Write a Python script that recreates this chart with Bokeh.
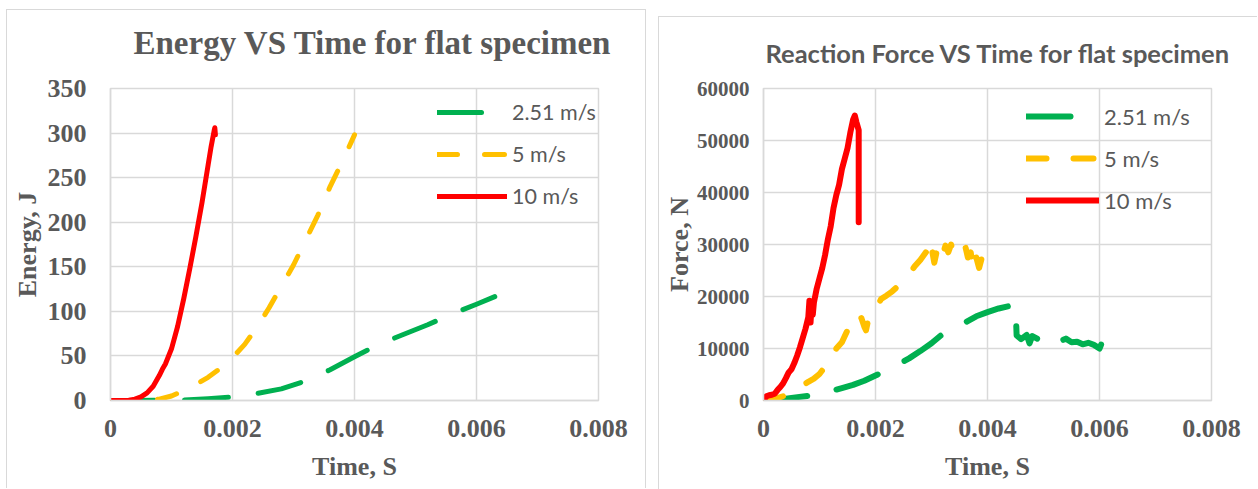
from bokeh.plotting import figure
from bokeh.models import Range1d, FixedTicker, Legend, LegendItem, Title
from bokeh.layouts import row
from bokeh.embed import file_html
from bokeh.resources import INLINE

# ---------------- data ----------------
series_labels = ["2.51 m/s", "5 m/s", "10 m/s"]
x_ticks = [0, 0.002, 0.004, 0.006, 0.008]
energy_ticks = [0, 50, 100, 150, 200, 250, 300, 350]
force_ticks = [0, 10000, 20000, 30000, 40000, 50000, 60000]

# Energy vs time
e_t_251 = [0, 0.0004, 0.0008, 0.0012, 0.0016, 0.002, 0.0024, 0.0028, 0.0032, 0.0036,
           0.004, 0.0044, 0.0048, 0.0052, 0.0056, 0.006, 0.0063]
e_v_251 = [0, 0, 0.2, 0.5, 2, 4, 7.8, 13, 22, 34.5, 49, 63, 74, 85, 97, 108, 116.5]

e_t_5 = [0, 0.0002, 0.0004, 0.0006, 0.0008, 0.001, 0.0012, 0.0014, 0.0016, 0.0018, 0.002,
         0.0022, 0.0024, 0.0026, 0.0028, 0.003, 0.0032, 0.0034, 0.0036, 0.0038, 0.004]
e_v_5 = [0, 0, 0.2, 0.5, 1.5, 5, 11, 18, 26, 36, 48, 63, 82, 104, 128, 152, 180, 208, 240, 268, 298]

e_t_10 = [0, 0.0001, 0.0002, 0.0003, 0.0004, 0.0005, 0.0006, 0.0007, 0.0008, 0.00085, 0.0009,
          0.001, 0.0011, 0.0012, 0.0013, 0.0014, 0.0015, 0.0016, 0.00165, 0.0017, 0.00171, 0.00172]
e_v_10 = [0, 0, 0.1, 0.4, 1.5, 4, 8.5, 16, 28, 35, 41, 58, 83, 114, 148, 184, 222, 264, 285, 303, 306, 298]

# Reaction force vs time
f_t_251 = [0, 0.0003, 0.0005, 0.0008, 0.001, 0.0012, 0.0014, 0.0016, 0.0018, 0.002, 0.0022,
           0.0024, 0.0026, 0.0028, 0.003, 0.0032, 0.0034, 0.0036, 0.0038, 0.004, 0.0042, 0.0044,
           0.0045, 0.00452, 0.0046, 0.0047, 0.00475, 0.0048, 0.0049, 0.005, 0.0051, 0.0052,
           0.0053, 0.0054, 0.0055, 0.0056, 0.0057, 0.0058, 0.0059, 0.006, 0.00605, 0.0061]
f_v_251 = [0, 200, 500, 900, 1200, 1800, 2400, 3000, 3800, 4800, 5800,
           6900, 8100, 9500, 11000, 12800, 14000, 15000, 16200, 17000, 17700, 18200,
           18500, 12500, 11800, 12600, 11000, 12400, 11800, 12700, 12000, 11900,
           11400, 11900, 11200, 11300, 10800, 11100, 10700, 10000, 11300, 10800]

f_t_5 = [0, 0.0002, 0.0004, 0.0006, 0.0007, 0.0008, 0.0009, 0.001, 0.0011, 0.0012, 0.00125,
         0.0013, 0.0014, 0.0015, 0.0016, 0.00165, 0.0017, 0.00175, 0.0018, 0.00183, 0.00187,
         0.0019, 0.002, 0.0021, 0.0022, 0.0023, 0.0024, 0.0025, 0.0026, 0.0027, 0.0028, 0.0029,
         0.00295, 0.003, 0.00305, 0.0031, 0.00315, 0.0032, 0.00325, 0.0033, 0.00335, 0.0034,
         0.0035, 0.0036, 0.00365, 0.0037, 0.00375, 0.0038, 0.00385, 0.0039, 0.004]
f_v_5 = [0, 300, 1000, 2200, 2900, 3600, 4200, 5100, 6500, 7900, 8300,
         10000, 11200, 13500, 15100, 16000, 16700, 15800, 14200, 13500, 15500,
         16700, 17600, 19500, 20200, 21000, 22000, 23000, 24300, 25800, 27000, 28500,
         27000, 29500, 26500, 29000, 30000, 28000, 29800, 28500, 30000, 28000,
         28500, 29800, 27500, 28500, 25000, 27500, 25500, 27500, 26800]

f_t_10 = [0, 0.00005, 0.0001, 0.00015, 0.0002, 0.00025, 0.0003, 0.00035, 0.0004, 0.00045,
          0.0005, 0.00055, 0.0006, 0.00065, 0.0007, 0.00075, 0.0008, 0.00082, 0.00084, 0.00086,
          0.00088, 0.0009, 0.00095, 0.001, 0.00105, 0.0011, 0.00115, 0.0012, 0.00125, 0.0013,
          0.00135, 0.0014, 0.00145, 0.0015, 0.00155, 0.0016, 0.00163, 0.00166, 0.0017, 0.0017]
f_v_10 = [0, 800, 1000, 1100, 1300, 2000, 2600, 3300, 4300, 5400,
          6000, 7200, 8600, 10200, 12000, 13800, 16000, 19200, 15000, 18500,
          16500, 18800, 21500, 23500, 25500, 28000, 31000, 33500, 37000, 39500,
          41500, 44500, 46500, 48500, 51500, 54000, 54800, 53500, 52000, 34300]

# ---------------- style ----------------
GREEN, YELLOW, RED = "#00b050", "#ffc000", "#ff0000"
TXT, GRID = "#595959", "#d9d9d9"
SERIF = "Liberation Serif"
BORDER = "1px solid #d9d9d9"


def style(p, ylabel, ytick_size):
    p.xaxis.ticker = FixedTicker(ticks=x_ticks)
    p.xaxis.major_label_overrides = {0: "0"}
    for ax in (p.xaxis, p.yaxis):
        ax.major_tick_line_color = None
        ax.minor_tick_line_color = None
        ax.major_tick_out = 0
        ax.major_tick_in = 0
        ax.minor_tick_out = 0
        ax.minor_tick_in = 0
        ax.axis_line_color = GRID
        ax.axis_line_width = 1.5
        ax.major_label_text_font = SERIF
        ax.major_label_text_font_style = "bold"
        ax.major_label_text_color = TXT
        ax.axis_label_text_font = SERIF
        ax.axis_label_text_font_style = "bold"
        ax.axis_label_text_font_size = "26px"
        ax.axis_label_text_color = TXT
    p.xaxis.major_label_text_font_size = "26px"
    p.yaxis.major_label_text_font_size = ytick_size
    p.xaxis.axis_label = "Time, S"
    p.yaxis.axis_label = ylabel
    p.xaxis.major_label_standoff = 19
    p.xaxis.axis_label_standoff = 12
    p.xgrid.grid_line_color = GRID
    p.ygrid.grid_line_color = GRID
    p.xgrid.grid_line_width = 1.5
    p.ygrid.grid_line_width = 1.5
    p.outline_line_color = GRID
    p.outline_line_width = 1.5
    p.background_fill_color = "white"
    p.border_fill_color = "white"


def set_title(p, text, font, size, offset, gap):
    # invisible spacer between the frame and the title
    p.add_layout(Title(text=" ", text_font_size="1px", standoff=gap), "above")
    p.title.text = text
    p.title.text_font = font
    p.title.text_font_style = "bold"
    p.title.text_font_size = size
    p.title.text_color = TXT
    p.title.align = "left"
    p.title.offset = offset
    p.title.standoff = 4


def add_lines(p, data, loc, gw, lw, fs):
    rs = []
    for (xs, ys), color, dash in zip(data, [GREEN, YELLOW, RED], ["44 30", "20 27", "solid"]):
        r = p.line(xs, ys, line_color=color, line_width=lw, line_dash=dash,
                   line_cap="round", line_join="round")
        rs.append(r)
    items = [LegendItem(label=lab, renderers=[r]) for lab, r in zip(series_labels, rs)]
    leg = Legend(items=items, location=loc, orientation="vertical", glyph_width=gw,
                 glyph_height=28, label_height=28, label_width=84, spacing=14,
                 label_standoff=5, padding=0, margin=0, border_line_color=None,
                 background_fill_alpha=0, label_text_font="Lato",
                 label_text_font_size=fs, label_text_color=TXT,
                 label_text_baseline="middle")
    p.add_layout(leg)


# ---------------- left: energy ----------------
p1 = figure(width=640, height=479, x_range=Range1d(0, 0.008), y_range=Range1d(0, 350),
            output_backend="svg", toolbar_location=None,
            min_border_left=103, min_border_right=49, min_border_top=78, min_border_bottom=86,
            margin=(9, 0, 0, 6),
            styles={"border-top": BORDER, "border-left": BORDER, "border-right": BORDER})
style(p1, "Energy, J", "26px")
p1.yaxis.ticker = FixedTicker(ticks=energy_ticks)
p1.yaxis.major_label_standoff = 24
p1.yaxis.axis_label_standoff = 3
set_title(p1, "Energy VS Time  for flat  specimen", SERIF, "33px", 23, 23)
add_lines(p1, [(e_t_251, e_v_251), (e_t_5, e_v_5), (e_t_10, e_v_10)], (327, 190), 70, 5, "21.5px")

# ---------------- right: force ----------------
# same top offset as the left chart (frames of a row are aligned); its frame
# line is painted 7px lower with a CSS background so the canvas stays aligned
p2 = figure(width=599, height=479, x_range=Range1d(0, 0.008), y_range=Range1d(0, 60000),
            output_backend="svg", toolbar_location=None,
            min_border_left=105, min_border_right=46, min_border_top=78, min_border_bottom=89,
            margin=(10, 0, 0, 12),
            styles={"background-image": "linear-gradient(#d9d9d9, #d9d9d9), linear-gradient(#d9d9d9, #d9d9d9)",
                    "background-size": "100% 1px, 1px 100%",
                    "background-position": "0 6px, 0 6px",
                    "background-repeat": "no-repeat"})
style(p2, "Force, N", "21px")
p2.border_fill_alpha = 0
p2.yaxis.ticker = FixedTicker(ticks=force_ticks)
p2.yaxis.formatter.use_scientific = False
p2.yaxis.major_label_standoff = 14
p2.yaxis.axis_label_standoff = 0
set_title(p2, "Reaction Force VS Time  for flat  specimen", "Lato", "25.5px", 2, 16)
add_lines(p2, [(f_t_251, f_v_251), (f_t_5, f_v_5), (f_t_10, f_v_10)], (263, 186), 73, 6, "22px")

layout = row(p1, p2)
open("out.html", "w").write(file_html(layout, INLINE))
